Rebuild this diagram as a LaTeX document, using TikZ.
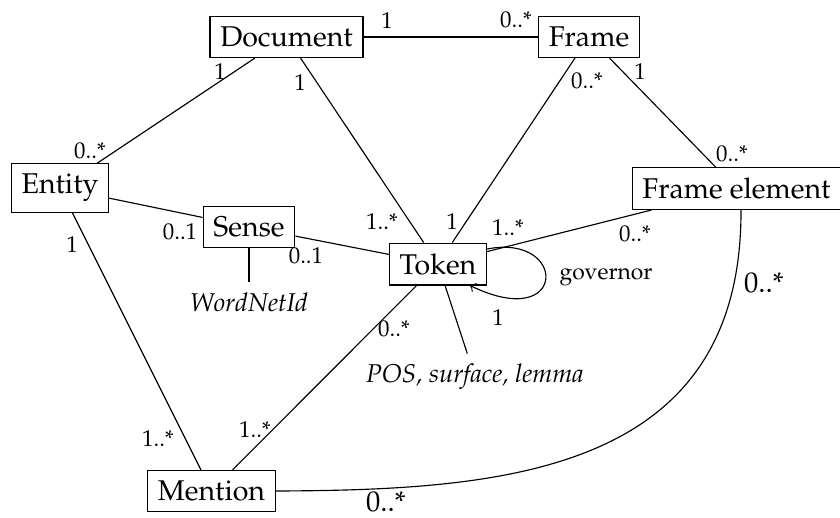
\documentclass[tikz,border=0pt]{standalone}
\usepackage[T1]{fontenc}
\usepackage{mathpazo}
\usetikzlibrary{calc}
\begin{document}
\begin{tikzpicture}[x=0.35pt,y=-0.35pt,
  cls/.style={draw,inner sep=3.6pt,font=\normalsize},
  mult/.style={font=\footnotesize,inner sep=0pt},
  multbig/.style={font=\normalsize,inner sep=0pt},
  attr/.style={font=\small\itshape,inner sep=3.5pt},
  >=to, line width=0.4pt]
\useasboundingbox (0,0) rectangle (840,517);

% classes
\node[cls] (doc)     at (286.5,37)  {Document};
\node[cls] (frame)   at (589,37)    {Frame};
\node[cls] (entity)  at (60,188)    {Entity};
\node[cls] (fe)      at (736.5,188.5) {Frame element};
\node[cls] (sense)   at (249,227)   {Sense};
\node[cls] (token)   at (438,264)   {Token};
\node[cls] (mention) at (211.5,491) {Mention};

% attributes
\node[attr] (wn)  at (249,302) {WordNetId};
\node[attr] (pos) at (475,377) {POS, surface, lemma};

% associations
\draw (doc) -- (frame);
\draw (doc) -- (entity);
\draw (doc) -- (token);
\draw (frame) -- (token);
\draw (frame) -- (fe);
\draw (entity) -- (sense);
\draw (sense) -- (token);
\draw (token) -- (fe);
\draw (token) -- (mention);
\draw (entity) -- (mention);
\draw (sense) -- (wn);
\draw (token) -- (pos);
\draw ($(fe.south)+(4.5,0)$) .. controls (742,475) and (500,490) .. (mention.east);
\draw[->] ($(token.east)+(0,-15)$) .. controls (568,233) and (568,333) .. ($(token.south)+(32,0)$);

% multiplicities
\node[mult] (m1)  at (387,21)  {1};
\node[mult] (m2)  at (516,20)  {0..*};
\node[mult] (m3)  at (220,72)  {1};
\node[mult] (m4)  at (90,151)  {0..*};
\node[mult] (m5)  at (300,83)  {1};
\node[mult] (m6)  at (382,222) {1..*};
\node[mult] (m7)  at (587,81)  {0..*};
\node[mult] (m8)  at (452,222) {1};
\node[mult] (m9)  at (640,72)  {1};
\node[mult] (m10) at (732,154) {0..*};
\node[mult] (m11) at (180,232) {0..1};
\node[mult] (m12) at (306,256) {0..1};
\node[mult] (m13) at (508,228) {1..*};
\node[mult] (m14) at (635,234) {0..*};
\node[mult] (m15) at (498,318) {1};
\node[mult] (m16) at (394,329) {0..*};
\node[mult] (m17) at (255,430) {1..*};
\node[mult] (m18) at (72,245)  {1};
\node[mult] (m19) at (158,439) {1..*};
\node[mult] (gov) at (606,277) {governor};
\node[multbig] (m20) at (764,283) {0..*};
\node[multbig] (m21) at (386,502) {0..*};
\end{tikzpicture}
\end{document}
